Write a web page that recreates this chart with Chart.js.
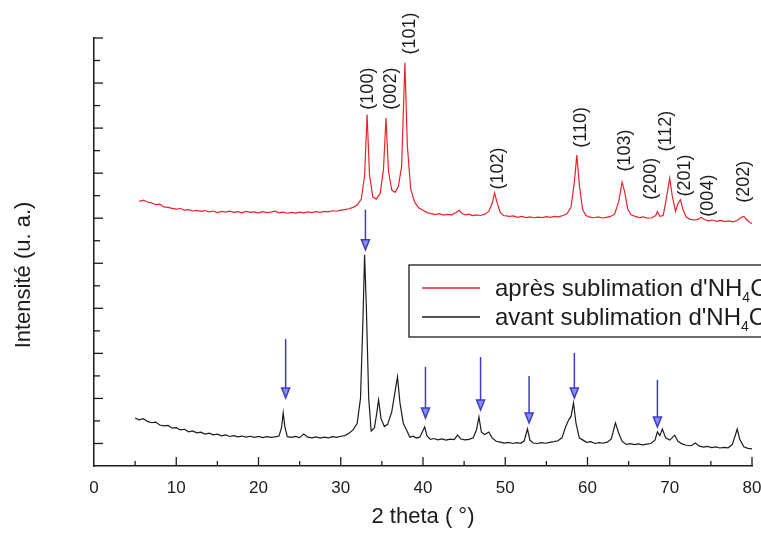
<!DOCTYPE html>
<html>
<head>
<meta charset="utf-8">
<script src="https://cdn.jsdelivr.net/npm/chart.js@4.4.1/dist/chart.umd.min.js"></script>
<style>
  html, body { margin: 0; padding: 0; background: #fff; }
  #wrap { width: 761px; height: 534px; position: relative; }
</style>
</head>
<body>
<div id="wrap"><canvas id="xrd"></canvas></div>
<script>
// red pattern (après sublimation), offset upward in the original figure
const apresX = [5.5,6,6.5,7,7.5,8,8.5,9,9.5,10,10.5,11,11.5,12,12.5,13,13.5,14,14.5,15,15.5,16,16.5,17,17.5,18,18.5,19,19.5,20,
  20.5,21,21.5,22,22.5,23,23.5,24,24.5,25,25.5,26,26.5,27,27.5,28,28.5,29,29.5,30,30.5,31,31.5,32,32.5,32.9,33.2,33.5,33.9,34.3,
  34.8,35.2,35.5,35.8,36.2,36.6,37,37.4,37.8,38.1,38.5,39,39.5,40,40.5,41,41.5,42,42.5,43,43.5,44,44.4,44.8,45.2,45.6,46,46.5,47,47.5,
  48,48.4,48.7,49,49.4,49.8,50.5,51,51.5,52,52.5,53,53.5,54,54.5,55,55.5,56,56.5,57,57.5,58,58.4,58.7,59,59.4,59.8,60.3,60.8,61.3,
  61.8,62.3,62.8,63.3,63.8,64.2,64.5,64.9,65.3,65.8,66.3,66.8,67.3,67.8,68.3,68.5,68.8,69.2,69.6,70,70.3,70.7,71,71.3,71.6,72,72.5,73,
  73.5,73.8,74.2,74.7,75.2,75.7,76.2,76.7,77.2,77.7,78.2,78.7,79,79.4,79.8,80.3];
const apresY = [1175,1180,1172,1168,1160,1162,1150,1148,1144,1140,1143,1136,1138,1132,1135,1130,1134,1128,1132,1125,1130,1127,1131,1126,1129,1124,1130,1126,1128,1124,
  1129,1125,1127,1131,1124,1127,1122,1126,1123,1127,1124,1128,1125,1129,1126,1130,1128,1133,1131,1136,1138,1142,1148,1158,1185,1290,1560,1290,1195,1185,
  1210,1320,1545,1310,1225,1215,1240,1330,1790,1420,1230,1170,1145,1135,1125,1120,1116,1120,1114,1117,1115,1125,1135,1120,1115,1118,1112,1115,1112,1118,
  1130,1165,1212,1170,1125,1112,1108,1110,1104,1108,1103,1106,1102,1105,1103,1107,1104,1108,1106,1112,1120,1150,1260,1380,1250,1140,1112,1105,1102,1106,
  1101,1104,1108,1118,1175,1260,1220,1140,1115,1108,1103,1106,1100,1102,1112,1130,1108,1112,1190,1278,1200,1130,1165,1182,1140,1105,1095,1092,
  1096,1104,1094,1088,1092,1086,1090,1085,1088,1084,1090,1104,1108,1092,1080,1072];

// black pattern (avant sublimation)
const avantX = [5,5.5,6,6.5,7,7.5,8,8.5,9,9.5,10,10.5,11,11.5,12,12.5,13,13.5,14,14.5,15,15.5,16,16.5,17,17.5,18,18.5,19,19.5,20,20.5,
  21,21.5,22,22.5,22.8,23,23.2,23.5,24,24.5,25,25.5,26,26.5,27,27.5,28,28.5,29,29.5,30,30.5,31,31.5,32,32.4,32.7,32.9,33.1,33.4,33.7,
  34.1,34.4,34.6,34.9,35.3,35.7,36.2,36.6,36.9,37.2,37.6,38,38.4,38.8,39.2,39.6,39.9,40.2,40.5,40.9,41.3,41.8,42.3,42.8,43.3,43.8,44.2,
  44.6,45.1,45.6,46.1,46.5,46.8,47.1,47.5,48,48.4,48.9,49.4,49.9,50.4,50.9,51.4,51.9,52.3,52.7,53,53.4,53.9,54.4,54.9,55.4,55.9,56.4,
  56.9,57.3,57.7,58,58.3,58.6,59,59.4,59.9,60.4,60.9,61.4,61.9,62.4,62.9,63.4,63.8,64.2,64.7,65.2,65.7,66.2,66.7,67.2,67.7,68.2,68.5,
  68.8,69.1,69.5,70,70.6,71,71.5,72,72.6,73.1,73.6,74.1,74.6,75.1,75.6,76.1,76.6,77.1,77.6,78,78.2,78.5,79,79.5,80];
const avantY = [213,205,210,198,192,195,182,178,180,168,170,160,163,152,156,147,150,142,146,138,141,134,138,131,135,129,133,128,132,127,131,126,
  130,127,129,133,170,236,175,130,127,131,126,142,128,125,129,124,128,125,130,127,132,135,145,160,190,300,650,938,720,300,155,
  170,240,293,210,175,185,240,330,396,280,190,160,128,132,124,128,150,173,132,118,122,116,120,115,119,117,138,
  120,116,118,125,160,218,150,140,151,125,110,106,102,105,100,104,101,112,164,115,102,100,104,101,105,108,112,
  125,170,204,220,280,190,125,116,105,108,100,104,101,106,120,191,145,110,96,99,95,98,94,97,100,115,151,
  135,164,125,115,137,110,98,92,90,102,88,84,87,82,85,80,83,81,95,140,164,120,85,78,76];

const xTicks = [0, 10, 20, 30, 40, 50, 60, 70, 80];

// Miller indices of the red peaks, label position (2theta, intensity at label foot)
const hklNames = ['(100)','(002)','(101)','(102)','(110)','(103)','(200)','(112)','(201)','(004)','(202)'];
const hklX     = [33.3, 36.1, 38.4, 49.1, 59.2, 64.6, 67.7, 69.5, 71.9, 74.6, 79.0];
const hklY     = [1582, 1582, 1827, 1227, 1413, 1307, 1182, 1396, 1196, 1107, 1169];

// blue arrows on the black pattern: 2theta, tail and tip intensity
const arrowX    = [23.3, 33.0, 40.3, 47.0, 52.9, 58.4, 68.5];
const arrowTail = [564, 1138, 440, 484, 400, 502, 382];
const arrowTip  = [302, 960, 213, 249, 191, 302, 173];

const RED = '#e8232c';
const BLACK = '#1c1c1c';
const BLUE = '#3c3cc8';
const FONT = '"Liberation Sans", Arial, sans-serif';

const pts = (xs, ys) => xs.map((x, i) => ({ x: x, y: ys[i] }));

const decor = {
  id: 'decor',
  afterDatasetsDraw(chart) {
    const c = chart.ctx;
    const xs = chart.scales.x, ys = chart.scales.y;
    const area = chart.chartArea;
    c.save();

    // inward tick marks
    c.strokeStyle = BLACK;
    c.lineWidth = 1.3;
    for (let v = 5; v <= 80; v += 5) {
      const px = xs.getPixelForValue(v);
      const len = v % 10 === 0 ? 9 : 5;
      c.beginPath(); c.moveTo(px, area.bottom); c.lineTo(px, area.bottom - len); c.stroke();
    }
    for (let v = 100; v <= 1900; v += 100) {
      const py = ys.getPixelForValue(v);
      const len = (v / 100) % 2 === 1 ? 9 : 6;
      c.beginPath(); c.moveTo(area.left, py); c.lineTo(area.left + len, py); c.stroke();
    }

    // hkl labels
    c.fillStyle = BLACK;
    c.font = '18px ' + FONT;
    c.textAlign = 'left';
    c.textBaseline = 'middle';
    hklNames.forEach((name, i) => {
      c.save();
      c.translate(xs.getPixelForValue(hklX[i]), ys.getPixelForValue(hklY[i]));
      c.rotate(-Math.PI / 2);
      c.fillText(name, 0, 0);
      c.restore();
    });

    // arrows
    c.strokeStyle = BLUE;
    c.fillStyle = '#8c8ce8';
    c.lineWidth = 1.5;
    arrowX.forEach((ax, i) => {
      const px = xs.getPixelForValue(ax);
      const top = ys.getPixelForValue(arrowTail[i]);
      const tip = ys.getPixelForValue(arrowTip[i]);
      c.beginPath(); c.moveTo(px, top); c.lineTo(px, tip - 9); c.stroke();
      c.beginPath();
      c.moveTo(px - 4, tip - 10); c.lineTo(px + 4, tip - 10); c.lineTo(px, tip);
      c.closePath(); c.fill(); c.stroke();
    });

    // legend box (runs off the right edge like the scan)
    const lx = area.left + 315, ly = area.top + 227;
    c.strokeStyle = BLACK;
    c.lineWidth = 1.3;
    c.strokeRect(lx, ly, 400, 72);
    const rows = [['après sublimation d\'NH', RED], ['avant sublimation d\'NH', BLACK]];
    rows.forEach((r, i) => {
      const y = ly + 23 + i * 29;
      c.strokeStyle = r[1];
      c.lineWidth = 1.3;
      c.beginPath(); c.moveTo(lx + 13, y); c.lineTo(lx + 71, y); c.stroke();
      c.fillStyle = BLACK;
      c.textBaseline = 'alphabetic';
      c.font = '24px ' + FONT;
      c.fillText(r[0], lx + 86, y + 8);
      let w = c.measureText(r[0]).width;
      c.font = '14px ' + FONT;
      c.fillText('4', lx + 86 + w, y + 14);
      const w4 = c.measureText('4').width;
      c.font = '24px ' + FONT;
      c.fillText('Cl', lx + 86 + w + w4, y + 8);
    });

    // y title
    c.fillStyle = BLACK;
    c.font = '22px ' + FONT;
    c.textAlign = 'center';
    c.textBaseline = 'middle';
    c.translate(24, 275);
    c.rotate(-Math.PI / 2);
    c.fillText('Intensité (u. a.)', 0, 0);
    c.restore();
  }
};

new Chart(document.getElementById('xrd'), {
  type: 'line',
  data: {
    datasets: [
      { label: 'après sublimation', data: pts(apresX, apresY), borderColor: RED, borderWidth: 1.2, pointRadius: 0, tension: 0 },
      { label: 'avant sublimation', data: pts(avantX, avantY), borderColor: BLACK, borderWidth: 1.2, pointRadius: 0, tension: 0 }
    ]
  },
  options: {
    responsive: true,
    maintainAspectRatio: false,
    animation: false,
    layout: { padding: { top: 38, right: 9, left: 0, bottom: 0 } },
    plugins: { legend: { display: false }, tooltip: { enabled: false } },
    scales: {
      x: {
        type: 'linear', min: 0, max: 80,
        afterBuildTicks: s => { s.ticks = xTicks.map(v => ({ value: v })); },
        afterFit: s => { s.height = 68; s.paddingRight = 0; s.paddingLeft = 0; },
        grid: { display: false, drawTicks: false },
        border: { display: true, color: BLACK, width: 1.5 },
        ticks: { color: BLACK, font: { size: 17, family: FONT }, padding: 12, maxRotation: 0 },
        title: { display: true, text: '2 theta ( °)', color: BLACK, font: { size: 22, family: FONT }, padding: { top: 0, bottom: 4 } }
      },
      y: {
        min: 0, max: 1900,
        afterFit: s => { s.width = 94; },
        grid: { display: false, drawTicks: false },
        border: { display: true, color: BLACK, width: 1.5 },
        ticks: { display: false }
      }
    }
  },
  plugins: [decor]
});
</script>
</body>
</html>
